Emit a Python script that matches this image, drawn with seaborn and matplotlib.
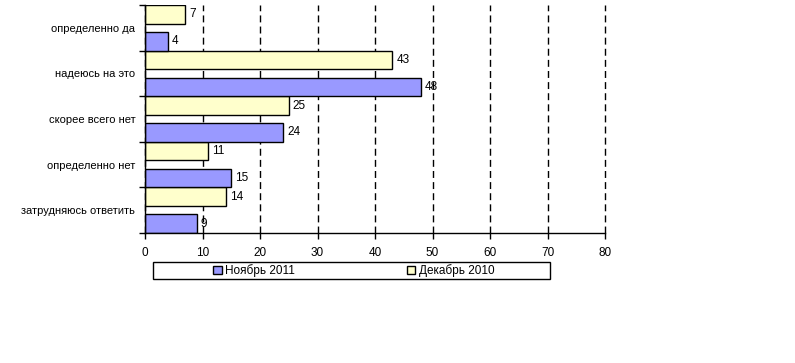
import matplotlib.pyplot as plt
import matplotlib.patches as mpatches
import pandas as pd
import seaborn as sns

# Data
categories = ['определенно да', 'надеюсь на это', 'скорее всего нет',
              'определенно нет', 'затрудняюсь ответить']
nov_2011 = [4, 48, 24, 15, 9]
dec_2010 = [7, 43, 25, 11, 14]
series_names = ['Ноябрь 2011', 'Декабрь 2010']
x_ticks = [0, 10, 20, 30, 40, 50, 60, 70, 80]

df = pd.DataFrame({
    'answer': categories * 2,
    'value': nov_2011 + dec_2010,
    'period': [series_names[0]] * len(categories) + [series_names[1]] * len(categories),
})
colors = {series_names[0]: '#9999FF', series_names[1]: '#FFFFCC'}

sns.set_style('white')
plt.rcParams['font.family'] = ['Liberation Sans', 'DejaVu Sans']
plt.rcParams['text.color'] = 'black'
plt.rcParams['xtick.color'] = 'black'
plt.rcParams['ytick.color'] = 'black'
fs = 8

fig = plt.figure(figsize=(7.95, 3.63), dpi=100)
ax = fig.add_axes([145 / 795, 1 - 233 / 363, 460 / 795, 228 / 363])

sns.barplot(data=df, x='value', y='answer', hue='period',
            hue_order=[series_names[1], series_names[0]], order=categories,
            palette=colors, saturation=1, orient='h', width=1.18, gap=0.305,
            edgecolor='black', linewidth=1, legend=False, ax=ax)

for c in ax.containers:
    ax.bar_label(c, padding=3, fontsize=fs + 0.5, color='black')

ax.set_xlim(0, 80)
ax.set_ylim(len(categories) - 0.5, -0.5)
ax.set_xticks(x_ticks)
ax.set_yticks([i - 0.5 for i in range(len(categories) + 1)])
ax.set_yticklabels([''] * (len(categories) + 1))
ax.set_yticks(range(len(categories)), minor=True)
ax.set_yticklabels(categories, minor=True)
ax.tick_params(axis='y', which='major', direction='out', length=4, width=1,
               color='black', left=True)
ax.tick_params(axis='y', which='minor', length=0, pad=7, labelsize=fs,
               labelcolor='black')
ax.tick_params(axis='x', direction='out', length=4, width=1, color='black',
               bottom=True, labelsize=fs + 0.5, pad=6, labelcolor='black')
ax.set_xlabel('')
ax.set_ylabel('')

ax.grid(axis='x', color='black', linestyle=(0, (5, 3)), linewidth=1)
ax.grid(axis='y', visible=False)
for gl in ax.get_xgridlines():
    gl.set_clip_on(False)
ax.set_axisbelow(True)
for side in ['top', 'right']:
    ax.spines[side].set_visible(False)
for side in ['left', 'bottom']:
    ax.spines[side].set_color('black')
    ax.spines[side].set_linewidth(1)

# Legend
handles = [mpatches.Patch(facecolor=colors[n], edgecolor='black', label=n)
           for n in series_names]
fig.legend(handles=handles, loc='center', bbox_to_anchor=(354 / 795, 1 - 270.5 / 363),
           ncol=2, frameon=False, handlelength=0.7, handleheight=0.7,
           handletextpad=0.3, columnspacing=9.5, fontsize=fs + 0.5,
           labelcolor='black')
fig.patches.append(mpatches.Rectangle((153 / 795, 1 - 279 / 363), 397 / 795, 17 / 363,
                                      transform=fig.transFigure, fill=False,
                                      edgecolor='black', linewidth=1))

fig.savefig('out.png', dpi=100)
